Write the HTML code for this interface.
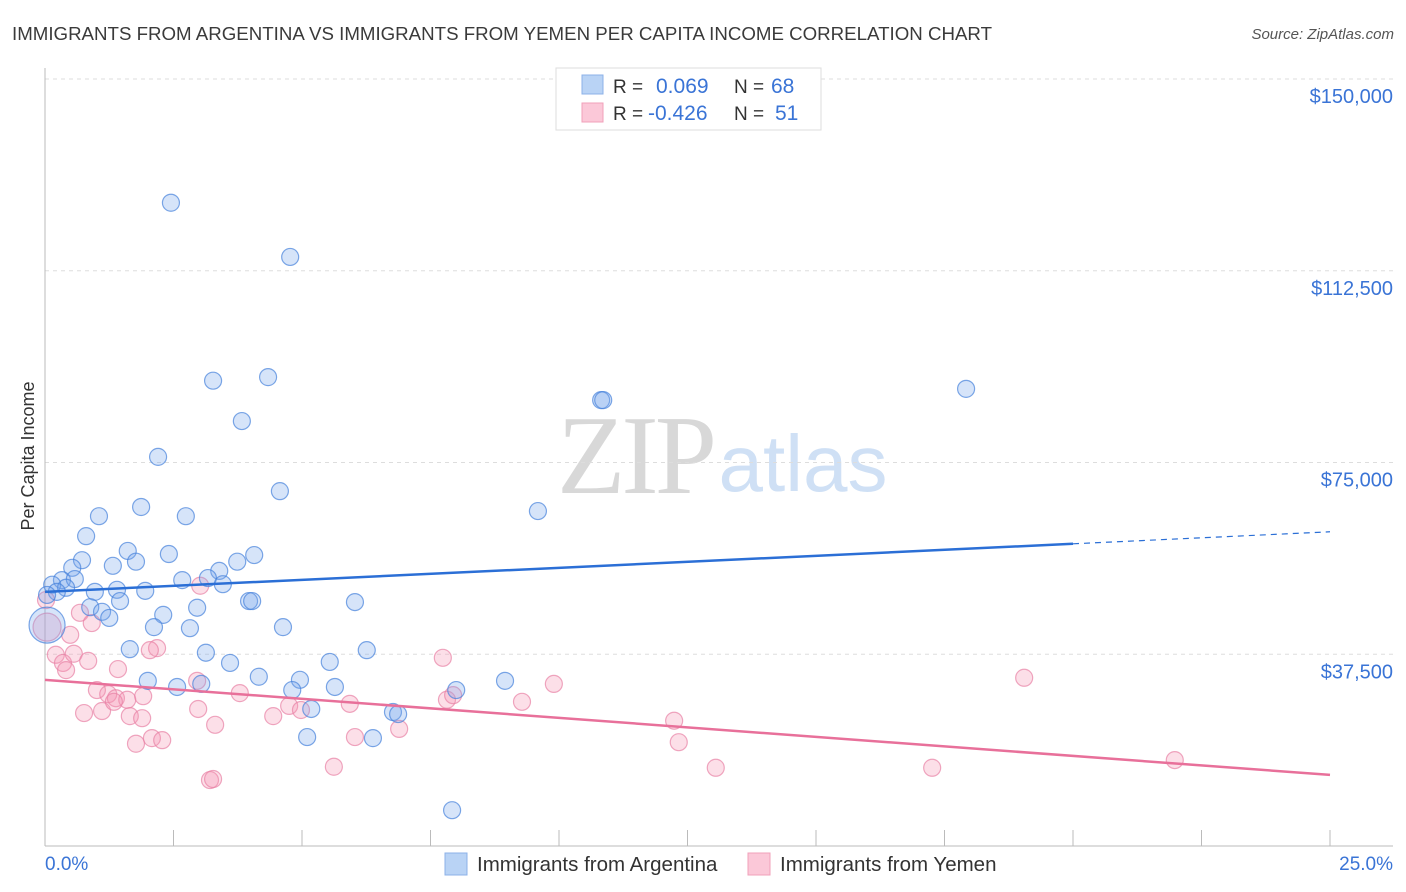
<!DOCTYPE html>
<html><head><meta charset="utf-8"><style>
body{margin:0;background:#fff;font-family:"Liberation Sans",sans-serif;}
svg{display:block}
</style></head><body>
<svg id="chart" width="1406" height="892">
<text x="12" y="40" font-size="18" fill="#3a3a3a" textLength="980" lengthAdjust="spacingAndGlyphs">IMMIGRANTS FROM ARGENTINA VS IMMIGRANTS FROM YEMEN PER CAPITA INCOME CORRELATION CHART</text>
<text x="1394" y="39" font-size="15" fill="#555" font-style="italic" text-anchor="end">Source: ZipAtlas.com</text>
<g>
<text x="635" y="493" font-family="Liberation Serif,serif" font-size="112" fill="#d8d8d8" text-anchor="middle" letter-spacing="-4">ZIP</text>
<text x="803" y="491" font-size="80" fill="#cfe0f5" text-anchor="middle">atlas</text>
</g>
<text transform="translate(34,456) rotate(-90)" font-size="18" fill="#333" text-anchor="middle">Per Capita Income</text>
<g id="grid"></g><g id="axes"></g><g id="pts"></g><g id="lines"></g>
<g>
<rect x="556" y="68" width="265" height="62" fill="#fff" stroke="#ddd"/>
<rect x="582" y="75" width="21" height="19" fill="#b9d3f5" stroke="#8cb2e8"/>
<rect x="582" y="103" width="21" height="19" fill="#fbc8d8" stroke="#f0a0ba"/>
<text x="613" y="93" font-size="19" fill="#333">R =</text>
<text x="656" y="93" font-size="21" fill="#3a74d6">0.069</text>
<text x="734" y="93" font-size="19" fill="#333">N =</text>
<text x="771" y="93" font-size="21" fill="#3a74d6">68</text>
<text x="613" y="120" font-size="19" fill="#333">R =</text>
<text x="648" y="120" font-size="21" fill="#3a74d6">-0.426</text>
<text x="734" y="120" font-size="19" fill="#333">N =</text>
<text x="775" y="120" font-size="21" fill="#3a74d6">51</text>
</g>
<g>
<rect x="445" y="853" width="22" height="22" fill="#b9d3f5" stroke="#8cb2e8"/>
<text x="477" y="871" font-size="20.5" fill="#333">Immigrants from Argentina</text>
<rect x="748" y="853" width="22" height="22" fill="#fbc8d8" stroke="#f0a0ba"/>
<text x="780" y="871" font-size="20.5" fill="#333">Immigrants from Yemen</text>
</g>
</svg>
<script>
const yTicks=[37500,75000,112500,150000];
const yTickLabels=["$37,500","$75,000","$112,500","$150,000"];
const xTickLabels=["0.0%","25.0%"];
const blueX=[2.45,4.77,3.27,4.34,3.83,2.20,4.57,1.05,1.87,2.74,9.59,10.82,10.86,17.92,0.80,1.61,2.41,4.07,3.74,0.72,1.77,0.53,1.32,3.39,3.17,2.67,0.33,0.58,0.14,0.41,3.46,0.23,1.95,1.40,0.97,0.04,0.88,1.46,3.97,4.03,6.03,2.96,2.30,1.11,1.25,4.63,2.12,2.82,1.65,3.13,6.26,3.60,5.54,4.16,2.00,4.96,2.57,3.04,5.64,4.81,8.00,8.95,5.18,5.10,6.77,6.87,6.38,7.92,0.04];
const blueY=[125.8,115.2,91.0,91.7,83.1,76.1,69.4,64.5,66.3,64.5,65.5,87.2,87.2,89.4,60.6,57.7,57.1,56.9,55.6,55.9,55.6,54.4,54.8,53.8,52.4,52.0,52.0,52.2,51.1,50.5,51.2,49.7,49.9,50.1,49.7,49.1,46.7,47.9,47.9,47.9,47.7,46.6,45.2,45.8,44.6,42.8,42.8,42.6,38.5,37.8,38.3,35.8,36.0,33.1,32.3,32.5,31.1,31.7,31.1,30.5,30.5,32.3,26.8,21.3,26.2,25.8,21.1,7.0,43.2];
const pinkX=[3.02,0.68,0.91,0.49,0.04,0.21,0.35,0.41,0.56,0.84,1.42,2.18,2.04,1.01,1.23,1.38,1.60,0.76,1.11,1.91,1.34,1.65,1.89,1.77,2.08,2.28,2.96,2.98,3.79,3.31,3.21,3.27,4.44,4.75,4.98,5.62,5.93,6.03,6.89,7.74,7.82,7.94,9.28,9.90,12.24,12.33,13.05,17.26,19.05,21.98,0.02];
const pinkY=[50.9,45.6,43.6,41.3,42.8,37.4,35.8,34.4,37.6,36.2,34.6,38.7,38.3,30.5,29.7,28.9,28.6,26.0,26.4,29.3,28.2,25.4,25.0,20.0,21.1,20.7,32.3,26.8,29.9,23.7,12.9,13.1,25.4,27.4,26.6,15.5,27.8,21.3,22.9,36.8,28.6,29.5,28.2,31.7,24.5,20.3,15.3,15.3,32.9,16.8,48.1];
const blueTrend=[49.7,59.1]; // value at x=0 and x=20
const pinkTrend=[32.5,13.9]; // value at x=0 and x=25
const X0=45,X1=1330,YB=846,YT=79;
const sx=v=>X0+(v/25)*(X1-X0);
const sy=v=>YB-(v/150000)*(YB-YT);
const NS="http://www.w3.org/2000/svg";
function mk(tag,attrs,parent){const e=document.createElementNS(NS,tag);for(const k in attrs)e.setAttribute(k,attrs[k]);document.getElementById(parent).appendChild(e);return e;}
yTicks.forEach((t,i)=>{
 const g=mk('line',{x1:X0,x2:1393,y1:sy(t),y2:sy(t),stroke:'#ddd','stroke-dasharray':'4,4'},'grid');
 
 
 const l=mk('text',{x:1393,y:sy(t)+24,'font-size':20,fill:'#3a74d6','text-anchor':'end'},'grid');
 l.textContent=yTickLabels[i];
 
 
});
const gl=mk('line',{x1:X0,x2:1393,y1:YT,y2:YT,stroke:'#ddd','stroke-dasharray':'4,4'},'grid');
mk('line',{x1:X0,x2:X0,y1:68,y2:YB,stroke:'#bbb'},'axes');
mk('line',{x1:X0,x2:1393,y1:YB,y2:YB,stroke:'#bbb'},'axes');
for(let k=0;k<=10;k++){const t=mk('line',{x1:sx(k*2.5),x2:sx(k*2.5),y1:830,y2:YB,stroke:'#bbb'},'axes');
 
 }
const xl0=mk('text',{x:45,y:870,'font-size':19,fill:'#3a74d6'},'axes');xl0.textContent=xTickLabels[0];


const xl1=mk('text',{x:1393,y:870,'font-size':19,fill:'#3a74d6','text-anchor':'end'},'axes');xl1.textContent=xTickLabels[1];


pinkX.forEach((x,i)=>{const big=(i===4);
 const c=mk('circle',{cx:sx(x),cy:sy(pinkY[i]*1000),r:big?14:8.5,fill:'rgba(244,150,180,0.3)',stroke:'rgba(232,130,165,0.7)','stroke-width':1.2},'pts');
 
 });
blueX.forEach((x,i)=>{const big=(i===blueX.length-1);
 const c=mk('circle',{cx:sx(x),cy:sy(blueY[i]*1000),r:big?18:8.5,fill:'rgba(120,165,235,0.3)',stroke:'rgba(70,130,220,0.7)','stroke-width':1.2},'pts');
 
 });
const bl=mk('line',{x1:sx(0),y1:sy(blueTrend[0]*1000),x2:sx(20),y2:sy(blueTrend[1]*1000),stroke:'#2b6fd6','stroke-width':2.5},'lines');


const slope=(blueTrend[1]-blueTrend[0])/20;
const bd=mk('line',{x1:sx(20),y1:sy(blueTrend[1]*1000),x2:sx(25),y2:sy((blueTrend[1]+slope*5)*1000),stroke:'#2b6fd6','stroke-width':1.2,'stroke-dasharray':'6,5'},'lines');


const pl=mk('line',{x1:sx(0),y1:sy(pinkTrend[0]*1000),x2:sx(25),y2:sy(pinkTrend[1]*1000),stroke:'#e8709a','stroke-width':2.5},'lines');


</script>
</body></html>
